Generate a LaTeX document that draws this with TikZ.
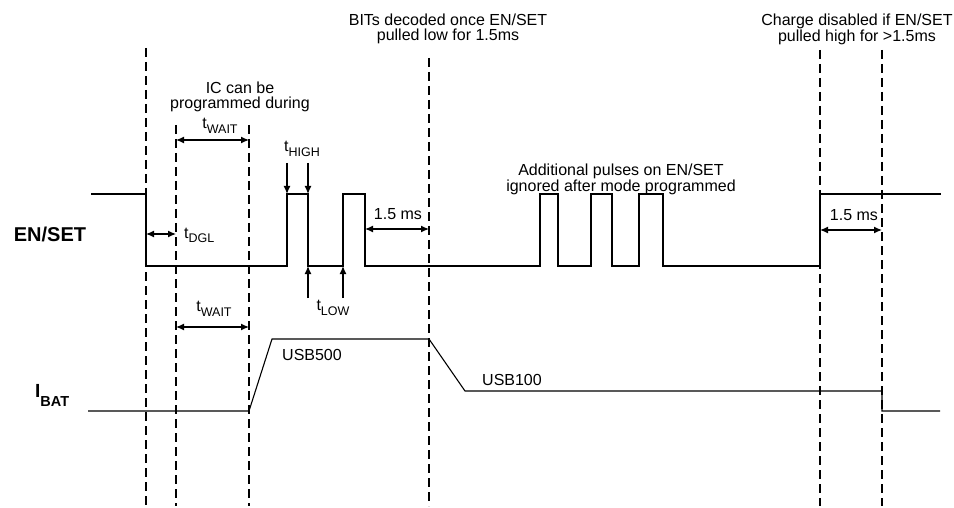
\documentclass[tikz,border=0pt]{standalone}
\usepackage{fontspec}
\setmainfont{Liberation Sans}
\usetikzlibrary{arrows.meta}
\newcommand{\tsub}[2]{#1\raisebox{-5pt}{\fontsize{12.5}{12.5}\selectfont #2}}
\tikzset{
  guide/.style={line width=\tdGuideWidth, dash pattern=on 9pt off 5pt},
  wave/.style={line width=\tdWaveWidth, line join=miter},
  dim/.style={line width=1.2pt, {Latex[length=8pt,width=7pt]}-{Latex[length=8pt,width=7pt]}},
  ptr/.style={line width=1.2pt, -{Latex[length=8pt,width=7pt]}},
  lbl/.style={font=\fontsize{16}{14.5}\selectfont, inner sep=0pt, align=center},
  sig/.style={font=\bfseries\fontsize{20}{20}\selectfont, inner sep=0pt},
}
\begin{document}
\begin{tikzpicture}[x=1pt, y=-1pt]
% timing diagram, one unit per pixel, y grows downwards
\providecommand{\tdGuideWidth}{1.8pt}
\providecommand{\tdWaveWidth}{1.1pt}
\useasboundingbox (0,0) rectangle (954,508);
\begin{scope}[line cap=butt]
  % Dashed guides
  \begin{scope}[guide]
    \draw (146,48) -- (146,506);
    \draw (176,125) -- (176,506);
    \draw (249,125) -- (249,506);
    \draw (429,58) -- (429,506);
    \draw (820,50) -- (820,506);
    \draw (882,50) -- (882,506);
  \end{scope}
  % EN/SET waveform
  \draw[wave] (91,194) -- (146,194) -- (146,266) -- (287,266) -- (287,194)
    -- (308,194) -- (308,266) -- (343,266) -- (343,194) -- (365,194)
    -- (365,266) -- (540,266) -- (540,194) -- (558,194) -- (558,266)
    -- (591,266) -- (591,194) -- (612,194) -- (612,266) -- (639,266)
    -- (639,194) -- (663,194) -- (663,266) -- (820,266) -- (820,194)
    -- (941,194);
  % I_BAT waveform
  \draw[wave] (88,411) -- (249,411) -- (272,339) -- (429,339) -- (465,391)
    -- (882,391) -- (882,411) -- (940,411);
\end{scope}
% Signal names
\node[sig, anchor=base] (enset) at (50,241) {EN/SET};
\node[sig, anchor=base west] (ibat) at (35,397)
  {\fontsize{19}{19}\selectfont I\raisebox{-9pt}{\fontsize{14.5}{14.5}\selectfont BAT}};
% Ends of the dimension arrows
\coordinate (dglL) at (146,234);   \coordinate (dglR) at (176,234);
\coordinate (waitAL) at (176,140); \coordinate (waitAR) at (249,140);
\coordinate (waitBL) at (176,327); \coordinate (waitBR) at (249,327);
\coordinate (lowmsL) at (365,229); \coordinate (lowmsR) at (429,229);
\coordinate (highmsL) at (820,230); \coordinate (highmsR) at (882,230);
\coordinate (highA) at (287,163);  \coordinate (highAe) at (287,194);
\coordinate (highB) at (308,163);  \coordinate (highBe) at (308,194);
\coordinate (lowA) at (308,298);   \coordinate (lowAe) at (308,266);
\coordinate (lowB) at (343,298);   \coordinate (lowBe) at (343,266);
\draw[dim] (dglL) -- (dglR);
\draw[dim] (waitAL) -- (waitAR);
\draw[dim] (waitBL) -- (waitBR);
\draw[dim] (lowmsL) -- (lowmsR);
\draw[dim] (highmsL) -- (highmsR);
\draw[ptr] (highA) -- (highAe);
\draw[ptr] (highB) -- (highBe);
\draw[ptr] (lowA) -- (lowAe);
\draw[ptr] (lowB) -- (lowBe);
% Timing labels
\node[lbl, anchor=base west] (tdgl) at (184,238) {\tsub{t}{DGL}};
\node[lbl, anchor=base] (twaitA) at (220,129) {\tsub{t}{WAIT}};
\node[lbl, anchor=base] (twaitB) at (214,311) {\tsub{t}{WAIT}};
\node[lbl, anchor=base] (thigh) at (302,152) {\tsub{t}{HIGH}};
\node[lbl, anchor=base] (tlow) at (333,310) {\tsub{t}{LOW}};
\node[lbl, anchor=base] (lowms) at (398,220) {1.5 ms};
\node[lbl, anchor=base] (highms) at (854,221) {1.5 ms};
\node[lbl, anchor=base west] (usbhi) at (282,360) {USB500};
\node[lbl, anchor=base west] (usblo) at (482,385) {USB100};
% Notes
\node[lbl, anchor=north] (noteprog) at (240,82) {IC can be\\programmed during};
\node[lbl, anchor=north] (notebits) at (448,14) {BITs decoded once EN/SET\\pulled low for 1.5ms};
\node[lbl, anchor=north] (notepulse) at (621,164) {Additional pulses on EN/SET\\ignored after mode programmed};
\node[lbl, anchor=north] (notecharge) at (857,14) {Charge disabled if EN/SET\\pulled high for >1.5ms};
\end{tikzpicture}
\end{document}
